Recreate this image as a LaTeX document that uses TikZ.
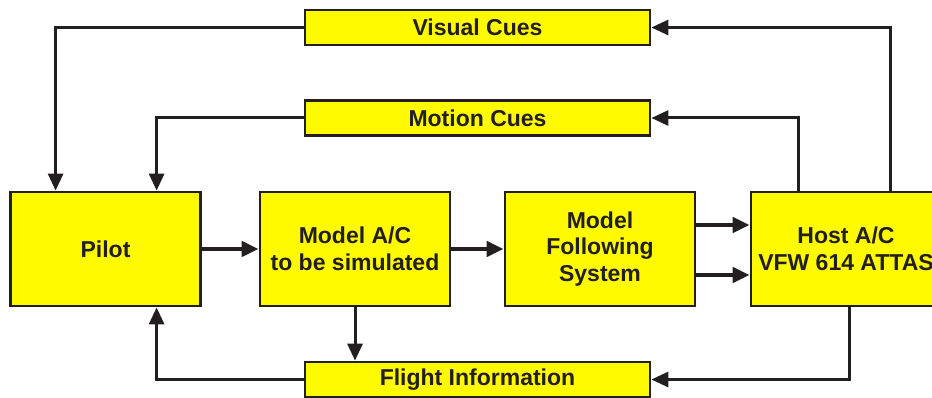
\documentclass[tikz,border=0pt]{standalone}
\usepackage{fontspec}
\setmainfont{Liberation Sans}
\usetikzlibrary{arrows.meta,calc}
\definecolor{boxfill}{RGB}{255,250,0}
\definecolor{ink}{RGB}{35,31,32}
\begin{document}
\begin{tikzpicture}[x=1pt,y=-1pt,
  blk/.style={draw=ink,line width=2.8pt,fill=boxfill,inner sep=0pt,
    minimum width=190pt,minimum height=114pt,align=center,
    font=\fontsize{23}{26.5}\selectfont\bfseries,text=ink},
  cue/.style={blk,minimum width=345pt,minimum height=35pt},
  arr/.style={draw=ink,line width=3pt,-{Triangle[length=17pt,width=15pt]}},
  thick arr/.style={arr,line width=4.5pt}]
\useasboundingbox (0,0) rectangle (932,398);
\clip (0,0) rectangle (932,398);
\node[cue] (vis) at (477.5,27.5) {Visual Cues};
\node[cue] (mot) at (477.5,118) {Motion Cues};
\node[cue] (flt) at (477.5,379.5) {Flight Information};
\node[blk] (pilot) at (105.5,249) {Pilot};
\node[blk] (mdl) at (355,249) {Model A/C\\to be simulated};
\node[blk] (mfs) at (600,249) {Model\\Following\\System};
\node[blk] (host) at (846,249) {Host A/C\\VFW 614 ATTAS};
% top feedback
\draw[arr] (vis.west) -| ([xshift=46.5pt]pilot.north west);
\draw[arr] (mot.west) -| ([xshift=147.5pt]pilot.north west);
\draw[arr] ([xshift=141pt]host.north west) |- (vis.east);
\draw[arr] ([xshift=49pt]host.north west) |- (mot.east);
% bottom
\draw[arr] (flt.west) -| ([xshift=147.5pt]pilot.south west);
\draw[arr] (mdl.south) -- (mdl.south |- flt.north);
\draw[arr] ([xshift=100pt]host.south west) |- (flt.east);
% forward chain
\draw[thick arr] (pilot.east) -- (mdl.west);
\draw[thick arr] (mdl.east) -- (mfs.west);
\draw[thick arr] ([yshift=24pt]mfs.east) -- ([yshift=24pt]host.west);
\draw[thick arr] ([yshift=-26pt]mfs.east) -- ([yshift=-26pt]host.west);
\end{tikzpicture}
\end{document}
